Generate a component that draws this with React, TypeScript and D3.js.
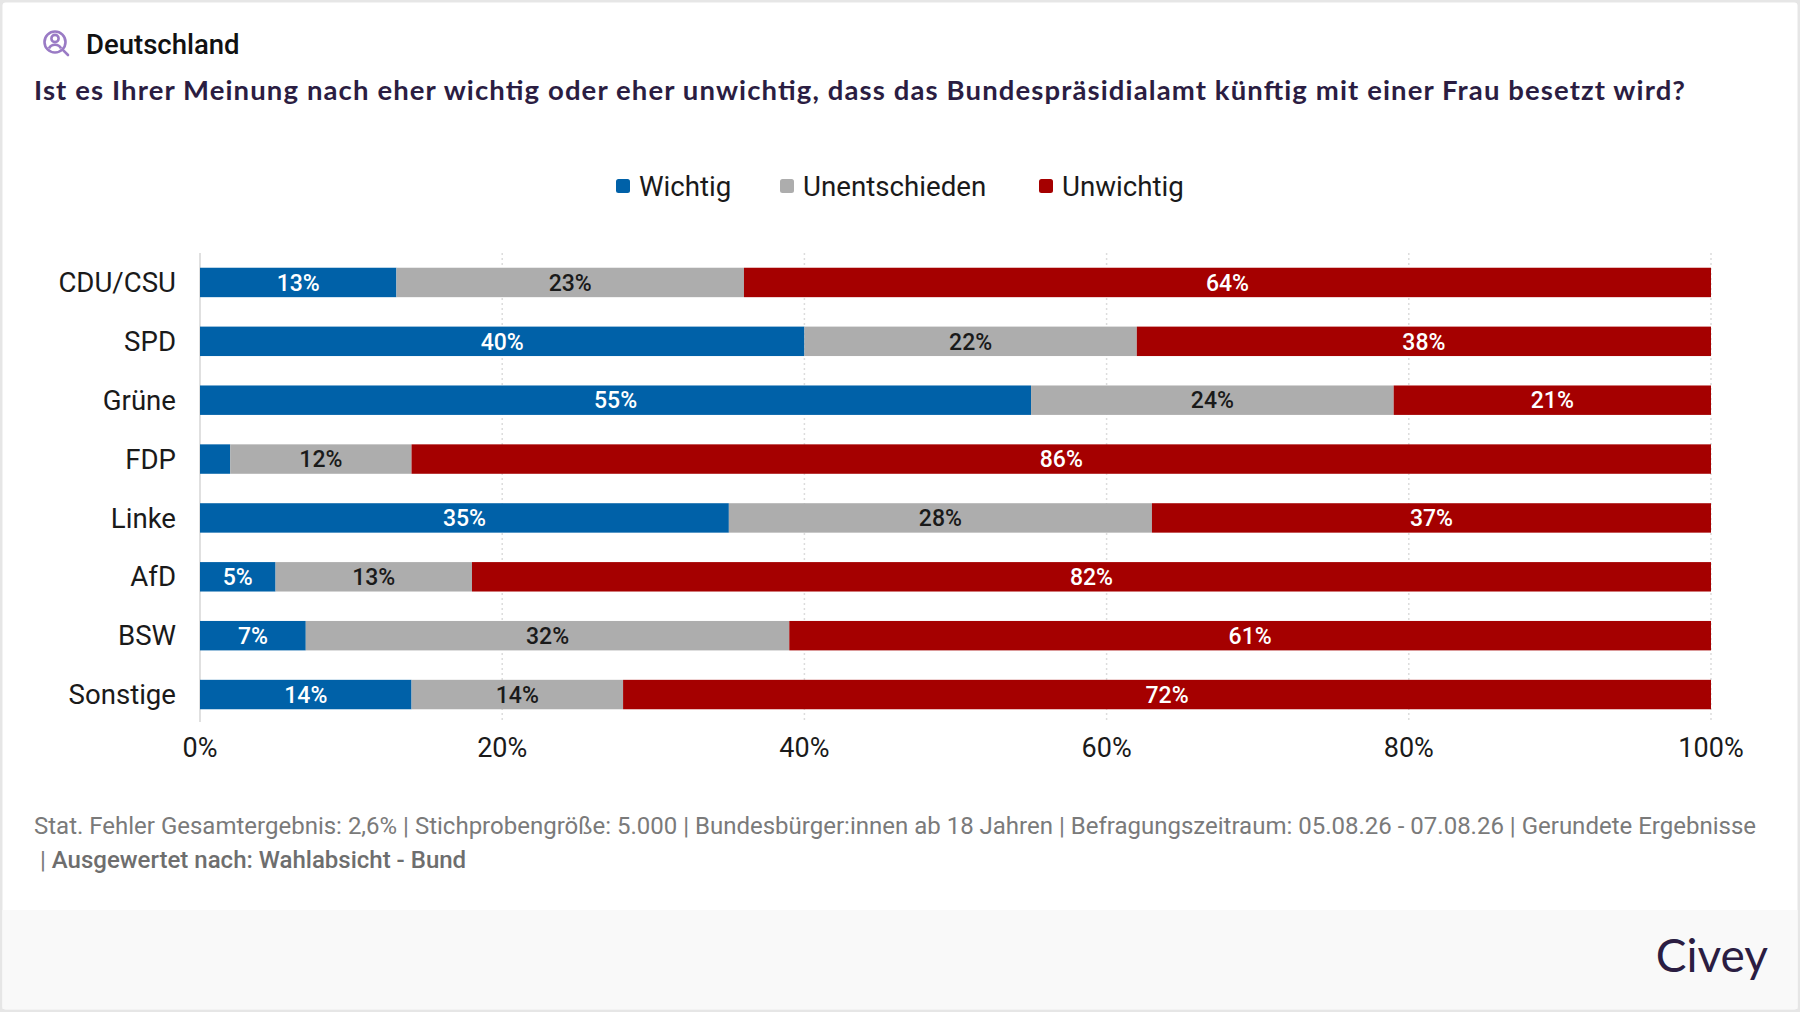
import * as d3 from "d3";

const parties = ["CDU/CSU", "SPD", "Grüne", "FDP", "Linke", "AfD", "BSW", "Sonstige"];
const wichtig = [13, 40, 55, 2, 35, 5, 7, 14];
const unentschieden = [23, 22, 24, 12, 28, 13, 32, 14];
const unwichtig = [64, 38, 21, 86, 37, 82, 61, 72];
const seriesNames = ["Wichtig", "Unentschieden", "Unwichtig"];
const seriesColors = ["#0061a8", "#adadad", "#a50000"];
const labelColors = ["#ffffff", "#1a1a1a", "#ffffff"];
const xTicks = [0, 20, 40, 60, 80, 100];

const title = "Deutschland";
const question =
    "Ist es Ihrer Meinung nach eher wichtig oder eher unwichtig, dass das Bundespräsidialamt künftig mit einer Frau besetzt wird?";
const footer1 =
    "Stat. Fehler Gesamtergebnis: 2,6% | Stichprobengröße: 5.000 | Bundesbürger:innen ab 18 Jahren | Befragungszeitraum: 05.08.26 - 07.08.26 | Gerundete Ergebnisse";
const footer2 = "Ausgewertet nach: Wahlabsicht - Bund";

type Row = { party: string; Wichtig: number; Unentschieden: number; Unwichtig: number };

export default function App() {
    const width = 1800;
    const height = 1012;
    const marginLeft = 200;
    const marginRight = 89;

    const rows: Row[] = parties.map((p, i) => ({
        party: p,
        Wichtig: wichtig[i],
        Unentschieden: unentschieden[i],
        Unwichtig: unwichtig[i],
    }));

    const stacked = d3.stack<Row>().keys(seriesNames)(rows);

    const x = d3.scaleLinear().domain([0, 100]).range([marginLeft, width - marginRight]);
    const y = d3.scaleBand().domain(parties).range([238.3, 738.7]).paddingInner(0.5).paddingOuter(0.5);

    const font = "Roboto, 'Noto Sans', sans-serif";
    const purple = "#2b1d42";

    // legend layout (x offsets of each item)
    const legendX = [616, 780, 1039];

    return (
        <svg
            width={width}
            height={height}
            viewBox={`0 0 ${width} ${height}`}
            style={{ position: "absolute", left: 0, top: 0 }}
            fontFamily={font}
        >
            <rect x={0} y={0} width={width} height={height} fill="#e6e6e6" />
            <rect x={2.5} y={2.5} width={width - 5} height={height - 5} fill="#ffffff" rx={3} />
            <rect x={2.5} y={910} width={width - 5} height={height - 913} fill="#f9f9f9" />

            {/* header */}
            <g transform="translate(55,42)" stroke="#9a7bc5" fill="none" strokeWidth={2.6}>
                <circle r={10.5} />
                <circle cx={0} cy={-3.5} r={3.6} />
                <path d="M-6,6.5 C-4,1.5 4,1.5 6,6.5" />
                <line x1={7.8} y1={7.8} x2={13} y2={13} strokeLinecap="round" />
            </g>
            <text x={86} y={44} dy="0.35em" fontSize={27.5} fontWeight={500} fill="#111">
                {title}
            </text>
            <text
                x={34}
                y={90}
                dy="0.35em"
                fontSize={27.5}
                fontWeight={700}
                fill={purple}
                fontFamily="Lato, 'Open Sans', sans-serif"
                textLength={1651}
                lengthAdjust="spacing"
            >
                {question}
            </text>

            {/* legend */}
            {seriesNames.map((s, i) => (
                <g key={s} transform={`translate(${legendX[i]},186)`}>
                    <rect x={0} y={-7} width={14} height={14} rx={2.5} fill={seriesColors[i]} />
                    <text x={23} dy="0.35em" fontSize={27.7} fill="#1a1a1a">
                        {s}
                    </text>
                </g>
            ))}

            {/* grid */}
            {xTicks.map((t) => (
                <line
                    key={t}
                    x1={x(t)}
                    x2={x(t)}
                    y1={253}
                    y2={722}
                    stroke={t === 0 ? "#e0e0e0" : "#dcdcdc"}
                    strokeWidth={t === 0 ? 2 : 1.5}
                    strokeDasharray={t === 0 ? undefined : "2,3"}
                />
            ))}

            {/* bars */}
            {stacked.map((layer, si) => (
                <g key={layer.key} fill={seriesColors[si]}>
                    {layer.map((d) => (
                        <rect
                            key={d.data.party}
                            x={x(d[0])}
                            y={y(d.data.party)}
                            width={x(d[1]) - x(d[0])}
                            height={y.bandwidth()}
                        />
                    ))}
                </g>
            ))}
            {stacked.map((layer, si) => (
                <g key={layer.key + "-lbl"}>
                    {layer
                        .filter((d) => d[1] - d[0] >= 4)
                        .map((d) => (
                            <text
                                key={d.data.party}
                                x={(x(d[0]) + x(d[1])) / 2}
                                y={(y(d.data.party) ?? 0) + y.bandwidth() / 2}
                                dy="0.36em"
                                textAnchor="middle"
                                fontSize={23}
                                fontWeight={500}
                                fill={labelColors[si]}
                            >
                                {d[1] - d[0]}%
                            </text>
                        ))}
                </g>
            ))}

            {/* category labels */}
            {parties.map((p) => (
                <text
                    key={p}
                    x={176}
                    y={(y(p) ?? 0) + y.bandwidth() / 2}
                    dy="0.35em"
                    textAnchor="end"
                    fontSize={27.6}
                    fill="#1a1a1a"
                >
                    {p}
                </text>
            ))}

            {/* x axis labels */}
            {xTicks.map((t) => (
                <text key={t} x={x(t)} y={748} dy="0.35em" textAnchor="middle" fontSize={27} fill="#1a1a1a">
                    {t}%
                </text>
            ))}

            {/* footer */}
            <text x={34} y={826} dy="0.35em" fontSize={24} fill="#7a7a7a">
                {footer1}
            </text>
            <text x={40} y={860} dy="0.35em" fontSize={24} fill="#7a7a7a">
                |{" "}
                <tspan fontWeight={500} fill="#6e6e6e">
                    {footer2}
                </tspan>
            </text>
            <text
                x={1768}
                y={956}
                dy="0.35em"
                textAnchor="end"
                fontSize={46}
                fontFamily="Lato, sans-serif"
                fill={purple}
            >
                Civey
            </text>
        </svg>
    );
}
